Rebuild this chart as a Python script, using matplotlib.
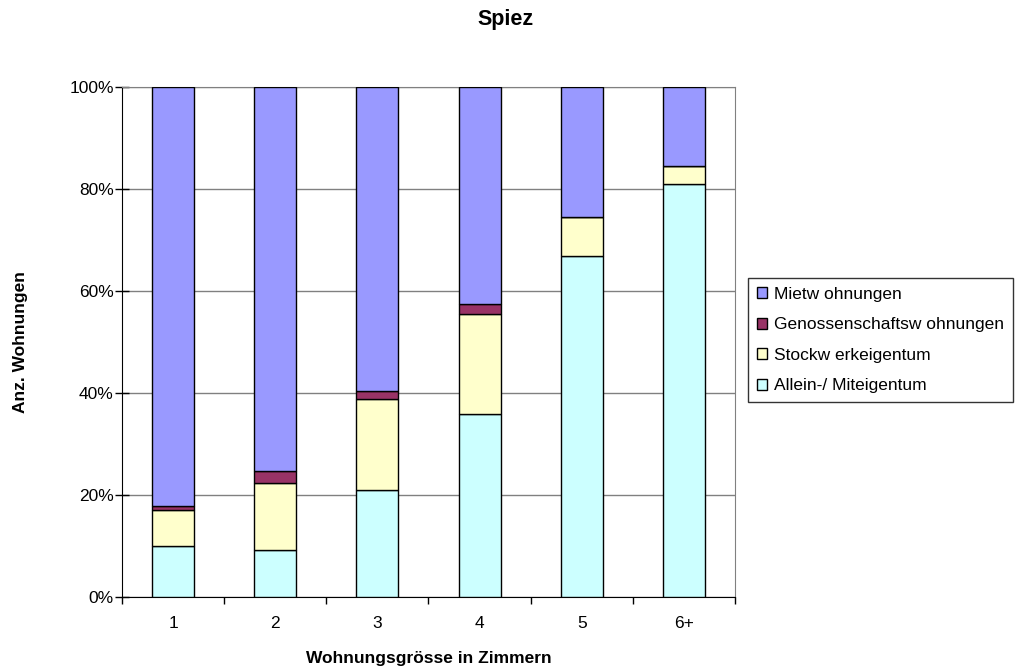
import matplotlib
matplotlib.use("Agg")
import matplotlib.pyplot as plt
import numpy as np

plt.rcParams['font.family'] = ['Liberation Sans', 'DejaVu Sans']

categories = ["1", "2", "3", "4", "5", "6+"]
allein = [9.9, 9.2, 21.0, 35.8, 66.9, 81.0]
stockwerk = [7.2, 13.1, 17.8, 19.6, 7.6, 3.6]
genossenschaft = [0.7, 2.4, 1.6, 2.0, 0.0, 0.0]
miet = [100 - a - s - g for a, s, g in zip(allein, stockwerk, genossenschaft)]

series = [
    ("Allein-/ Miteigentum", allein, "#CCFFFF"),
    ("Stockw erkeigentum", stockwerk, "#FFFFCC"),
    ("Genossenschaftsw ohnungen", genossenschaft, "#993366"),
    ("Mietw ohnungen", miet, "#9999FF"),
]

FS = 12.5

fig = plt.figure(figsize=(10.19, 6.68), dpi=100)
ax = fig.add_axes([0.1197, 0.1063, 0.6016, 0.7635])

x = np.arange(len(categories))
bottom = np.zeros(len(categories))
handles = []
for label, vals, color in series:
    vals = np.array(vals)
    b = ax.bar(x, vals, 0.41, bottom=bottom, color=color, edgecolor="black",
               linewidth=1.0, label=label, zorder=3)
    handles.append(b)
    bottom += vals

ax.set_xlim(-0.5, len(categories) - 0.5)
ax.set_ylim(0, 100)
ax.set_yticks(np.arange(0, 101, 20))
ax.set_yticklabels([f"{v}%" for v in range(0, 101, 20)], fontsize=FS)
ax.yaxis.grid(True, color="#808080", linewidth=1.0, zorder=0)
ax.set_xticks(x)
ax.set_xticklabels(categories, fontsize=FS)
ax.set_xticks(np.arange(-0.5, len(categories), 1), minor=True)
ax.tick_params(axis="x", which="major", length=0, pad=14)
ax.tick_params(axis="x", which="minor", length=5, width=1, color="black")
ax.tick_params(axis="y", direction="inout", length=10, width=1, color="black", pad=1)

for side in ["top", "right"]:
    ax.spines[side].set_color("#808080")
for side in ["left", "bottom"]:
    ax.spines[side].set_color("black")

ax.set_xlabel("Wohnungsgrösse in Zimmern", fontsize=FS, fontweight="bold", labelpad=14)
fig.text(0.0206, 0.488, "Anz. Wohnungen", rotation=90, ha="center", va="center",
         fontsize=FS, fontweight="bold")
fig.text(0.4956, 0.971, "Spiez", ha="center", va="center", fontsize=15.5, fontweight="bold")

leg = fig.legend(handles[::-1], [s[0] for s in series][::-1],
                 loc="center left", bbox_to_anchor=(0.734, 0.491),
                 fontsize=FS, frameon=True, fancybox=False, edgecolor="black",
                 handlelength=0.6, handleheight=0.6, handletextpad=0.4,
                 labelspacing=0.9, borderpad=0.5, borderaxespad=0)
leg.get_frame().set_linewidth(1.0)

fig.savefig("out.png", dpi=100)
